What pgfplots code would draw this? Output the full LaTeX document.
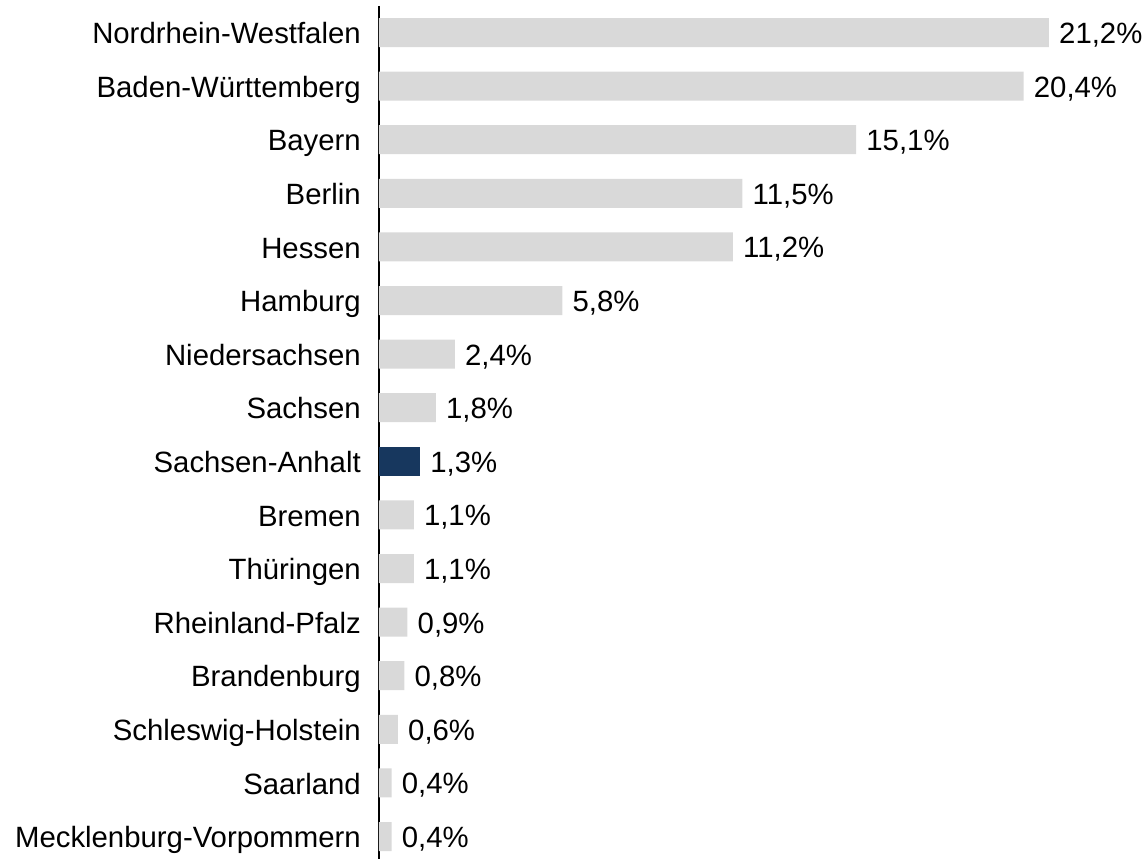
\documentclass[border=0pt]{standalone}
\usepackage{pgfplots}
\pgfplotsset{compat=1.18}
\usepackage{fontspec}
\setmainfont{Liberation Sans}
\definecolor{barg}{HTML}{D9D9D9}
\definecolor{barn}{HTML}{17375E}
\begin{document}
\fontsize{22}{26}\selectfont
\begin{tikzpicture}
\begin{axis}[
  scale only axis,
  x=23.7pt, y=40.2pt,
  xmin=0, xmax=24.25, ymin=-0.495, ymax=15.42,
  y dir=reverse,
  axis x line=none, axis y line=left,
  y axis line style={-, line width=1.1pt, black},
  ytick={0,...,15},
  yticklabels={Nordrhein-Westfalen,Baden-Württemberg,Bayern,Berlin,Hessen,Hamburg,Niedersachsen,Sachsen,Sachsen-Anhalt,Bremen,Thüringen,Rheinland-Pfalz,Brandenburg,Schleswig-Holstein,Saarland,Mecklenburg-Vorpommern},
  major tick length=0pt,
  ytick style={draw=none},
  yticklabel style={anchor=base east, inner sep=0pt, xshift=-13.5pt, yshift=-8.4pt, font=\fontsize{22}{26}\selectfont},
  xbar, bar width=21.75pt, bar shift=0pt,
  clip=false,
  point meta=x,
  /pgf/number format/assume math mode=true,
  nodes near coords={\pgfmathprintnumber[fixed,fixed zerofill,precision=1,use comma]{\pgfplotspointmeta}\%},
  every node near coord/.append style={anchor=base west, inner sep=0pt, xshift=7.5pt, yshift=-8.2pt, black, font=\fontsize{22}{26}\selectfont},
]
\addplot[fill=barg, draw=none] coordinates {
(21.2,0) (20.4,1) (15.1,2) (11.5,3) (11.2,4) (5.8,5) (2.4,6) (1.8,7)
(1.1,9) (1.1,10) (0.9,11) (0.8,12) (0.6,13) (0.4,14) (0.4,15)};
\addplot[fill=barn, draw=none] coordinates {(1.3,8)};
\coordinate (tl) at (axis cs:0,-0.495);
\end{axis}
\pgfresetboundingbox
\path ([shift={(-284.25pt,4.5pt)}]tl) rectangle ++(858.75pt,-644.25pt);
\end{tikzpicture}
\end{document}
